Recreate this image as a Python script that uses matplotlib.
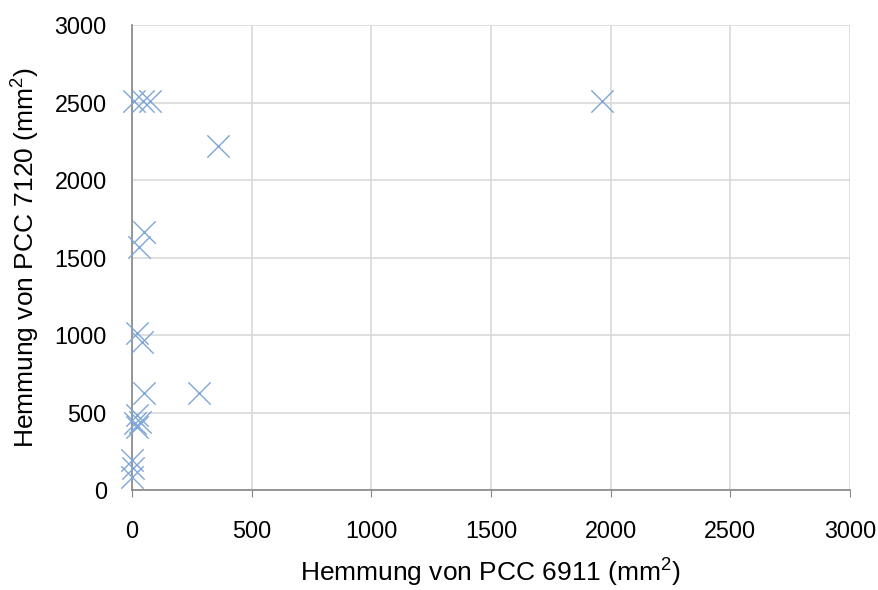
import matplotlib
matplotlib.use("Agg")
import matplotlib.pyplot as plt

# Data
x_vals = [10, 45, 75, 358, 1963, 51, 30, 22, 43, 51, 280, 22, 15, 20, 35, 1, 5, 1]
y_vals = [2510, 2510, 2510, 2219, 2510, 1666, 1570, 1015, 953, 624, 624, 484, 430, 408, 440, 194, 140, 86]
x_ticks = [0, 500, 1000, 1500, 2000, 2500, 3000]
y_ticks = [0, 500, 1000, 1500, 2000, 2500, 3000]
x_label = "Hemmung von PCC 6911 (mm$^2$)"
y_label = "Hemmung von PCC 7120 (mm$^2$)"

plt.rcParams['font.family'] = ['Liberation Sans', 'DejaVu Sans']
plt.rcParams['mathtext.fontset'] = 'custom'
plt.rcParams['mathtext.rm'] = 'Liberation Sans'
plt.rcParams['mathtext.it'] = 'Liberation Sans'
plt.rcParams['mathtext.default'] = 'regular'

fig = plt.figure(figsize=(8.79, 5.90), dpi=100)
ax = fig.add_axes([0.150, 0.1695, 0.817, 0.788])

ax.scatter(x_vals, y_vals, marker='x', s=260, linewidths=1.0, color='#7EA6D8',
           zorder=3, clip_on=False)

ax.set_xlim(0, 3000)
ax.set_ylim(0, 3000)
ax.set_xticks(x_ticks)
ax.set_yticks(y_ticks)
ax.grid(True, color='#D9D9D9', linewidth=1.2, zorder=0)
ax.set_axisbelow(True)

for s in ['top', 'right']:
    ax.spines[s].set_visible(False)
for s in ['left', 'bottom']:
    ax.spines[s].set_color('#868686')
    ax.spines[s].set_linewidth(1.2)

ax.tick_params(axis='x', length=5, color='#868686', labelsize=16.8, pad=16.5)
ax.tick_params(axis='y', length=0, labelsize=16.8, pad=18)

ax.set_xlabel(x_label, fontsize=19, labelpad=10)
ax.set_ylabel(y_label, fontsize=19, labelpad=9)

fig.savefig("out.png", dpi=100)
